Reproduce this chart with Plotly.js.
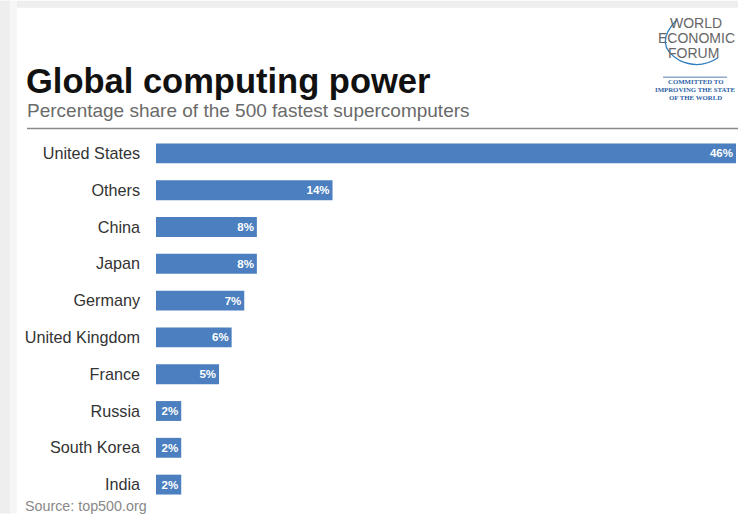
<!DOCTYPE html>
<html>
<head>
<meta charset="utf-8">
<script src="https://cdn.plot.ly/plotly-3.0.1.min.js"></script>
<style>html,body{margin:0;padding:0;background:#fff;}#chart{width:738px;height:514px;}</style>
</head>
<body>
<div id="chart"></div>
<script>
var countries = ["United States","Others","China","Japan","Germany","United Kingdom","France","Russia","South Korea","India"];
var shares = [46,14,8,8,7,6,5,2,2,2];
var shareLabels = ["46%","14%","8%","8%","7%","6%","5%","2%","2%","2%"];

var W = 738, H = 514, L = 156, R = 2, T = 134.5, B = 10.5;
var PW = W - L - R, PH = H - T - B;
function px(x){ return (x - L) / PW; }
function py(y){ return (H - B - y) / PH; }

var font = "Liberation Sans, Arial, Helvetica, sans-serif";

var trace = {
  type: "bar",
  orientation: "h",
  x: shares,
  y: countries,
  text: shareLabels,
  textposition: "inside",
  insidetextanchor: "end",
  constraintext: "none",
  textfont: {family: font, size: 11.5, color: "#ffffff", weight: "bold"},
  marker: {color: "#4b7fbf", line: {width: 0}},
  hoverinfo: "none"
};

var shapes = [
  {type:"rect", xref:"paper", yref:"paper", x0:px(0), x1:px(738), y0:py(0), y1:py(7), fillcolor:"#eeeeee", line:{width:0}, layer:"below"},
  {type:"rect", xref:"paper", yref:"paper", x0:px(0), x1:px(10), y0:py(0), y1:py(514), fillcolor:"#eeeeee", line:{width:0}, layer:"below"},
  {type:"rect", xref:"paper", yref:"paper", x0:px(10), x1:px(17), y0:py(0), y1:py(514), fillcolor:"#f6f6f6", line:{width:0}, layer:"below"},
  {type:"line", xref:"paper", yref:"paper", x0:px(27), x1:px(738), y0:py(128), y1:py(128), line:{color:"#8a8a8a", width:1.5}},
  {type:"line", xref:"paper", yref:"paper", x0:px(663), x1:px(727), y0:py(76.5), y1:py(76.5), line:{color:"#5a7fb5", width:1}},
  {type:"path", xref:"paper", yref:"paper",
   path: "M " + px(677) + "," + py(19) + " Q " + px(652) + "," + py(44) + " " + px(680) + "," + py(60) + " Q " + px(700) + "," + py(69) + " " + px(718) + "," + py(57),
   line:{color:"#2f7fc0", width:1.3}}
];

function ann(text, x, y, size, color, opts){
  var a = {text:text, xref:"paper", yref:"paper", x:px(x), y:py(y), showarrow:false,
    xanchor:"left", yanchor:"middle", font:{family:font, size:size, color:color}};
  if (opts) for (var k in opts) a[k] = opts[k];
  return a;
}

var serif = "Liberation Serif, Times New Roman, serif";
var annotations = [
  ann("<b>Global computing power</b>", 24, 80, 34.5, "#111111"),
  ann("Percentage share of the 500 fastest supercomputers", 25, 110, 19, "#6a6a6a"),
  ann("Source: top500.org", 23, 507, 14.3, "#888888"),
  ann("WORLD", 696, 22, 14, "#666666", {xanchor:"center"}),
  ann("ECONOMIC", 696.5, 37, 14, "#666666", {xanchor:"center"}),
  ann("FORUM", 693, 52, 14, "#666666", {xanchor:"center"}),
  ann("<b>COMMITTED TO</b>", 695, 81, 6.8, "#2f5fa6", {xanchor:"center", font:{family:serif,size:6.8,color:"#2f5fa6"}}),
  ann("<b>IMPROVING THE STATE</b>", 695, 88.8, 6.8, "#2f5fa6", {xanchor:"center", font:{family:serif,size:6.8,color:"#2f5fa6"}}),
  ann("<b>OF THE WORLD</b>", 695, 96.6, 6.8, "#2f5fa6", {xanchor:"center", font:{family:serif,size:6.8,color:"#2f5fa6"}})
];

var layout = {
  width: W, height: H,
  margin: {l: L, r: R, t: T, b: B, pad: 0},
  paper_bgcolor: "#ffffff",
  plot_bgcolor: "rgba(0,0,0,0)",
  showlegend: false,
  bargap: 0.46,
  xaxis: {range: [0, 46], visible: false, fixedrange: true},
  yaxis: {autorange: "reversed", showgrid: false, zeroline: false, showline: false, ticks: "",
    ticklabelstandoff: 15, tickfont: {family: font, size: 16.2, color: "#333333"}, fixedrange: true},
  shapes: shapes,
  annotations: annotations
};

Plotly.newPlot("chart", [trace], layout, {displayModeBar: false, staticPlot: true});
</script>
</body>
</html>
